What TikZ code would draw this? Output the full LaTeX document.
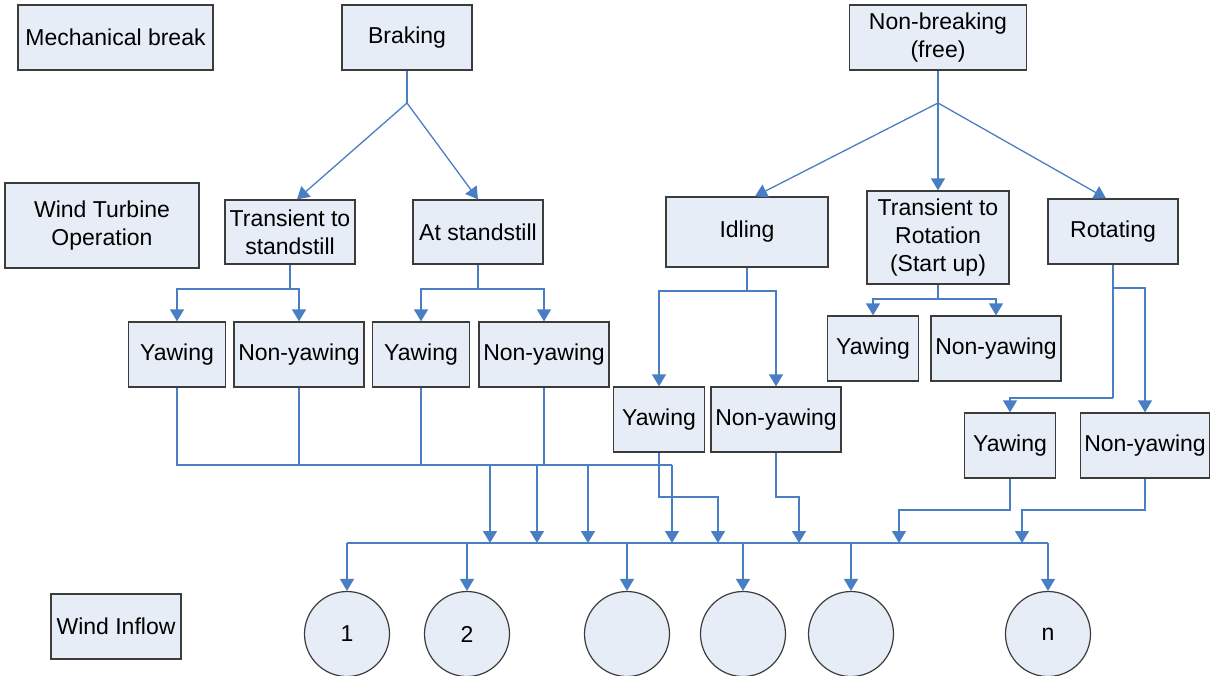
\documentclass[tikz,border=0pt]{standalone}
\usepackage{fontspec}
\setmainfont{Liberation Sans}
\usetikzlibrary{arrows.meta}
\definecolor{boxfill}{RGB}{230,237,247}
\definecolor{boxline}{RGB}{60,60,60}
\definecolor{conncol}{RGB}{74,126,196}
\tikzset{
  box/.style={draw=boxline, fill=boxfill, line width=1.3pt, inner sep=0pt, align=center,
    font=\fontsize{23}{27.8}\selectfont},
  conn/.style={draw=conncol, line width=1.3pt},
  arr/.style={conn, -{Triangle[width=14pt,length=12pt]}},
  circ/.style={circle, draw=boxline, fill=boxfill, line width=1.2pt, minimum size=85pt, inner sep=0pt,
    font=\fontsize{23}{27.8}\selectfont}
}
\begin{document}
\begin{tikzpicture}[x=1pt,y=-1pt]
\useasboundingbox (0,0) rectangle (1212,675);
% top row
\node[box, minimum width=195pt, minimum height=65pt] (mech) at (115.5,37.5) {Mechanical break};
\node[box, minimum width=130pt, minimum height=65pt] (brak) at (407,37.5) {Braking};
\node[box, minimum width=177pt, minimum height=65pt] (nonb) at (938,37.5) {Non-breaking\\(free)};
% operation row
\node[box, minimum width=194pt, minimum height=85pt] (wto) at (102,225.5) {Wind Turbine\\Operation};
\node[box, minimum width=130pt, minimum height=64pt] (tts) at (290,232) {Transient to\\standstill};
\node[box, minimum width=130pt, minimum height=64pt] (ats) at (478,232) {At standstill};
\node[box, minimum width=162pt, minimum height=70pt] (idl) at (747,232) {Idling};
\node[box, minimum width=142pt, minimum height=93pt] (ttr) at (938,237.5) {Transient to\\Rotation\\(Start up)};
\node[box, minimum width=130pt, minimum height=65pt] (rot) at (1113,231.5) {Rotating};
% yawing row
\node[box, minimum width=97pt, minimum height=65pt] (y1) at (177,354.5) {Yawing};
\node[box, minimum width=130pt, minimum height=65pt] (n1) at (299,354.5) {Non-yawing};
\node[box, minimum width=97pt, minimum height=65pt] (y2) at (421,354.5) {Yawing};
\node[box, minimum width=130pt, minimum height=65pt] (n2) at (544,354.5) {Non-yawing};
\node[box, minimum width=91pt, minimum height=65pt] (y3) at (659,419.5) {Yawing};
\node[box, minimum width=130pt, minimum height=65pt] (n3) at (776,419.5) {Non-yawing};
\node[box, minimum width=91pt, minimum height=65pt] (y4) at (873,348.5) {Yawing};
\node[box, minimum width=130pt, minimum height=65pt] (n4) at (996,348.5) {Non-yawing};
\node[box, minimum width=91pt, minimum height=65pt] (y5) at (1010,445.5) {Yawing};
\node[box, minimum width=129pt, minimum height=65pt] (n5) at (1145,445.5) {Non-yawing};
% inflow
\node[box, minimum width=130pt, minimum height=65pt] (wind) at (116,626.5) {Wind Inflow};
\node[circ] (c1) at (347,634) {1};
\node[circ] (c2) at (467,634) {2};
\node[circ] (c3) at (627,634) {};
\node[circ] (c4) at (743,634) {};
\node[circ] (c5) at (851,634) {};
\node[circ] (cn) at (1048,634) {n};
% braking connectors
\coordinate (bj) at (407,103);
\draw[conn] (brak) -- (bj);
\draw[arr] (bj) -- ([xshift=7pt]tts.north);
\draw[arr] (bj) -- (ats.north);
% non-braking connectors
\coordinate (nj) at (938,103);
\draw[conn] (nonb) -- (nj);
\draw[arr] (nj) -- ([xshift=8pt]idl.north);
\draw[arr] (nj) -- (ttr.north);
\draw[arr] (nj) -- ([xshift=-7pt]rot.north);
% to yawing boxes
\coordinate (tj) at (290,289);
\draw[conn] (tts) -- (tj);
\draw[arr] (tj) -| (y1);
\draw[arr] (tj) -| (n1);
\coordinate (aj) at (478,289);
\draw[conn] (ats) -- (aj);
\draw[arr] (aj) -| (y2);
\draw[arr] (aj) -| (n2);
\coordinate (ij) at (747,291);
\draw[conn] (idl) -- (ij);
\draw[arr] (ij) -| (y3);
\draw[arr] (ij) -| (n3);
\coordinate (rj) at (938,299);
\draw[conn] (ttr) -- (rj);
\draw[arr] (rj) -| (y4);
\draw[arr] (rj) -| (n4);
\coordinate (oj) at (1113,398);
\coordinate (ok) at (1113,288);
\draw[conn] (rot) -- (oj);
\draw[arr] (oj) -| (y5);
\draw[arr] (ok) -| (n5);
% left group collector
\coordinate (g1) at (490,465);
\coordinate (g2) at (537,465);
\coordinate (g3) at (588,465);
\coordinate (g4) at (672,465);
\draw[conn] (y1) |- (g4);
\draw[conn] (n1) -- (299,465);
\draw[conn] (y2) -- (421,465);
\draw[conn] (n2) -- (544,465);
% bus
\coordinate (busL) at (347,543);
\coordinate (busR) at (1048,543);
\draw[conn] (busL) -- (busR);
\draw[arr] (g1) -- (490,543);
\draw[arr] (g2) -- (537,543);
\draw[arr] (g3) -- (588,543);
\draw[arr] (g4) -- (672,543);
\draw[arr] (y3) |- (718,497) -- (718,543);
\draw[arr] (n3) |- (799,497) -- (799,543);
\draw[arr] (y5) |- (899,510) -- (899,543);
\draw[arr] (n5) |- (1022,510) -- (1022,543);
% bus to circles
\draw[arr] (busL) -- (c1);
\draw[arr] (467,543) -- (c2);
\draw[arr] (627,543) -- (c3);
\draw[arr] (743,543) -- (c4);
\draw[arr] (851,543) -- (c5);
\draw[arr] (busR) -- (cn);
\end{tikzpicture}
\end{document}
